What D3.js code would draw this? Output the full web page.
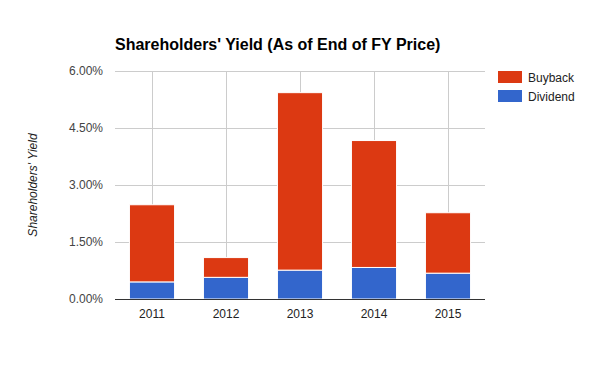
<!DOCTYPE html>
<html>
<head>
<meta charset="utf-8">
<script src="https://cdnjs.cloudflare.com/ajax/libs/d3/7.8.5/d3.min.js"></script>
<style>
  body { margin: 0; background: #fff; }
  text { font-family: Arial, "Liberation Sans", sans-serif; }
</style>
</head>
<body>
<svg id="chart"></svg>
<script>
// data
const years = ["2011", "2012", "2013", "2014", "2015"];
const dividend = [0.45, 0.57, 0.76, 0.83, 0.68];
const buyback = [2.03, 0.52, 4.67, 3.34, 1.59];
const yTicks = [0, 1.5, 3, 4.5, 6];
const seriesNames = ["Buyback", "Dividend"];
const seriesColors = ["#dc3912", "#3366cc"];

const canvWidth = 600;
const canvHeight = 371;
const margin = { top: 71, right: 115, bottom: 72, left: 115 };
const width = canvWidth - margin.left - margin.right;
const height = canvHeight - margin.top - margin.bottom;

const svg = d3.select("#chart")
    .attr("width", canvWidth)
    .attr("height", canvHeight);

const g = svg.append("g")
    .attr("transform", "translate(" + margin.left + "," + margin.top + ")");

const x = d3.scaleBand()
    .domain(years)
    .range([0, width])
    .paddingInner(0.39)
    .paddingOuter(0.195);

const y = d3.scaleLinear()
    .domain([0, 6])
    .range([height, 0]);

// horizontal gridlines
g.append("g")
    .selectAll("line")
    .data(yTicks)
    .enter().append("line")
    .attr("x1", 0)
    .attr("x2", width)
    .attr("y1", function (d) { return Math.round(y(d)) + 0.5; })
    .attr("y2", function (d) { return Math.round(y(d)) + 0.5; })
    .attr("stroke", "#cccccc");

// vertical gridlines at category centres
g.append("g")
    .selectAll("line")
    .data(years)
    .enter().append("line")
    .attr("x1", function (d) { return Math.round(x(d) + x.bandwidth() / 2) + 0.5; })
    .attr("x2", function (d) { return Math.round(x(d) + x.bandwidth() / 2) + 0.5; })
    .attr("y1", 0)
    .attr("y2", height)
    .attr("stroke", "#cccccc");

// stacked bars
const rows = years.map(function (yr, i) {
    return { year: yr, Dividend: dividend[i], Buyback: buyback[i] };
});
const stack = d3.stack().keys(["Dividend", "Buyback"]);
const layers = stack(rows);
const colorOf = { Dividend: "#3366cc", Buyback: "#dc3912" };

g.append("g")
    .selectAll("g")
    .data(layers)
    .enter().append("g")
    .attr("fill", function (d) { return colorOf[d.key]; })
    .selectAll("rect")
    .data(function (d) { return d; })
    .enter().append("rect")
    .attr("x", function (d) { return x(d.data.year); })
    .attr("width", x.bandwidth())
    .attr("y", function (d) { return y(d[1]); })
    .attr("height", function (d) { return y(d[0]) - y(d[1]); })
    .attr("stroke", "#ffffff")
    .attr("stroke-width", 1);

// baseline
g.append("line")
    .attr("x1", 0)
    .attr("x2", width)
    .attr("y1", Math.round(y(0)) + 0.5)
    .attr("y2", Math.round(y(0)) + 0.5)
    .attr("stroke", "#333333");

// y axis labels
const yAxis = g.append("g")
    .call(d3.axisLeft(y).tickValues(yTicks).tickSize(0).tickPadding(12)
        .tickFormat(function (d) { return d.toFixed(2) + "%"; }));
yAxis.select(".domain").remove();
yAxis.selectAll("text")
    .attr("font-size", 12)
    .attr("fill", "#444444")
    .style("font-family", "Arial, 'Liberation Sans', sans-serif");

// x axis labels
const xAxis = g.append("g")
    .attr("transform", "translate(0," + height + ")")
    .call(d3.axisBottom(x).tickSize(0).tickPadding(10));
xAxis.select(".domain").remove();
xAxis.selectAll("text")
    .attr("font-size", 12)
    .attr("fill", "#222222")
    .style("font-family", "Arial, 'Liberation Sans', sans-serif");

// title
svg.append("text")
    .attr("x", 115)
    .attr("y", 50)
    .attr("font-size", 16)
    .attr("font-weight", "bold")
    .attr("fill", "#000")
    .text("Shareholders' Yield (As of End of FY Price)");

// y axis title
svg.append("text")
    .attr("transform", "translate(37," + (margin.top + height / 2) + ") rotate(-90)")
    .attr("text-anchor", "middle")
    .attr("font-size", 12)
    .attr("font-style", "italic")
    .attr("fill", "#222222")
    .text("Shareholders' Yield");

// legend
const legend = svg.append("g")
    .selectAll("g")
    .data(seriesNames)
    .enter().append("g")
    .attr("transform", function (d, i) { return "translate(498," + (71 + i * 19) + ")"; });

legend.append("rect")
    .attr("width", 24)
    .attr("height", 12)
    .attr("fill", function (d, i) { return seriesColors[i]; });

legend.append("text")
    .attr("x", 30)
    .attr("y", 10.5)
    .attr("font-size", 12)
    .attr("fill", "#222222")
    .text(function (d) { return d; });
</script>
</body>
</html>
